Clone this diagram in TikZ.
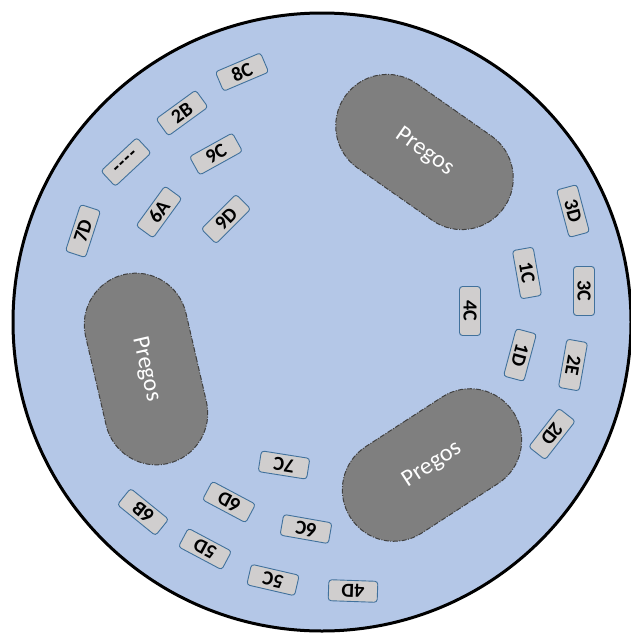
\documentclass[tikz,border=0pt]{standalone}
\usepackage{fontspec}
\setmainfont{Carlito}
\newfontfamily\tagfont{Carlito}[Ligatures=TeXOff]
\usetikzlibrary{shapes.misc}
\definecolor{plate}{HTML}{B4C7E7}
\definecolor{nailgray}{HTML}{7F7F7F}
\definecolor{nailedge}{HTML}{404040}
\definecolor{tagfill}{HTML}{D0CECE}
\definecolor{tagedge}{HTML}{41719C}
\tikzset{
  tag/.style={draw=tagedge, fill=tagfill, line width=0.9pt, rounded corners=3pt,
    minimum width=49pt, minimum height=21pt, inner sep=0pt,
    font=\tagfont\bfseries\fontsize{20}{20}\selectfont},
  nails/.style={shape=rounded rectangle, draw=nailedge, fill=nailgray, line width=1pt,
    dash pattern=on 5pt off 1.5pt on 1pt off 1.5pt,
    minimum width=194pt, minimum height=103pt, inner sep=0pt,
    text=white, font=\fontsize{24}{24}\selectfont}
}
\begin{document}
\begin{tikzpicture}[x=1pt, y=-1pt]
  \useasboundingbox (0,0) rectangle (631,635);
  % base plate
  \begin{scope}
    \clip (0,0) rectangle (631,635);
    \node[circle, draw=black, fill=plate, line width=3pt, minimum size=618pt, inner sep=0pt] (plate) at (322,322) {};
  \end{scope}

  % nail areas
  \node[nails, rotate=-35] (pregosA) at (424.5,152) {Pregos};
  \node[nails, rotate=-77] (pregosB) at (146,369) {Pregos};
  \node[nails, rotate=33]  (pregosC) at (432,465) {Pregos};

  % upper-left group
  \node[tag, rotate=23] (t8C) at (242,72) {8C};
  \node[tag, rotate=36] (t2B) at (182,113) {2B};
  \node[tag, rotate=43] (tdash) at (126,162) {-\kern1.2pt-\kern1.2pt-\kern1.2pt-};
  \node[tag, rotate=29] (t9C) at (216,154) {9C};
  \node[tag, rotate=72] (t7D) at (83,231) {7D};
  \node[tag, rotate=54] (t6A) at (159,212) {6A};
  \node[tag, rotate=45] (t9D) at (226,219) {9D};

  % right group
  \node[tag, rotate=-75]  (t3D) at (573,211) {3D};
  \node[tag, rotate=-80]  (t1C) at (527,273) {1C};
  \node[tag, rotate=-90]  (t3C) at (584,291) {3C};
  \node[tag, rotate=-90]  (t4C) at (470,311) {4C};
  \node[tag, rotate=-105] (t1D) at (520,355) {1D};
  \node[tag, rotate=-100] (t2E) at (573,365) {2E};
  \node[tag, rotate=-128] (t2D) at (552,434) {2D};

  % lower group
  \node[tag, rotate=171] (t7C) at (284,465) {7C};
  \node[tag, rotate=152] (t6D) at (229,502) {6D};
  \node[tag, rotate=141] (t6B) at (143,512) {6B};
  \node[tag, rotate=170] (t6C) at (306,529) {6C};
  \node[tag, rotate=152] (t5D) at (205,549) {5D};
  \node[tag, rotate=167] (t5C) at (273,580) {5C};
  \node[tag, rotate=178] (t4D) at (353,591) {4D};
\end{tikzpicture}
\end{document}
